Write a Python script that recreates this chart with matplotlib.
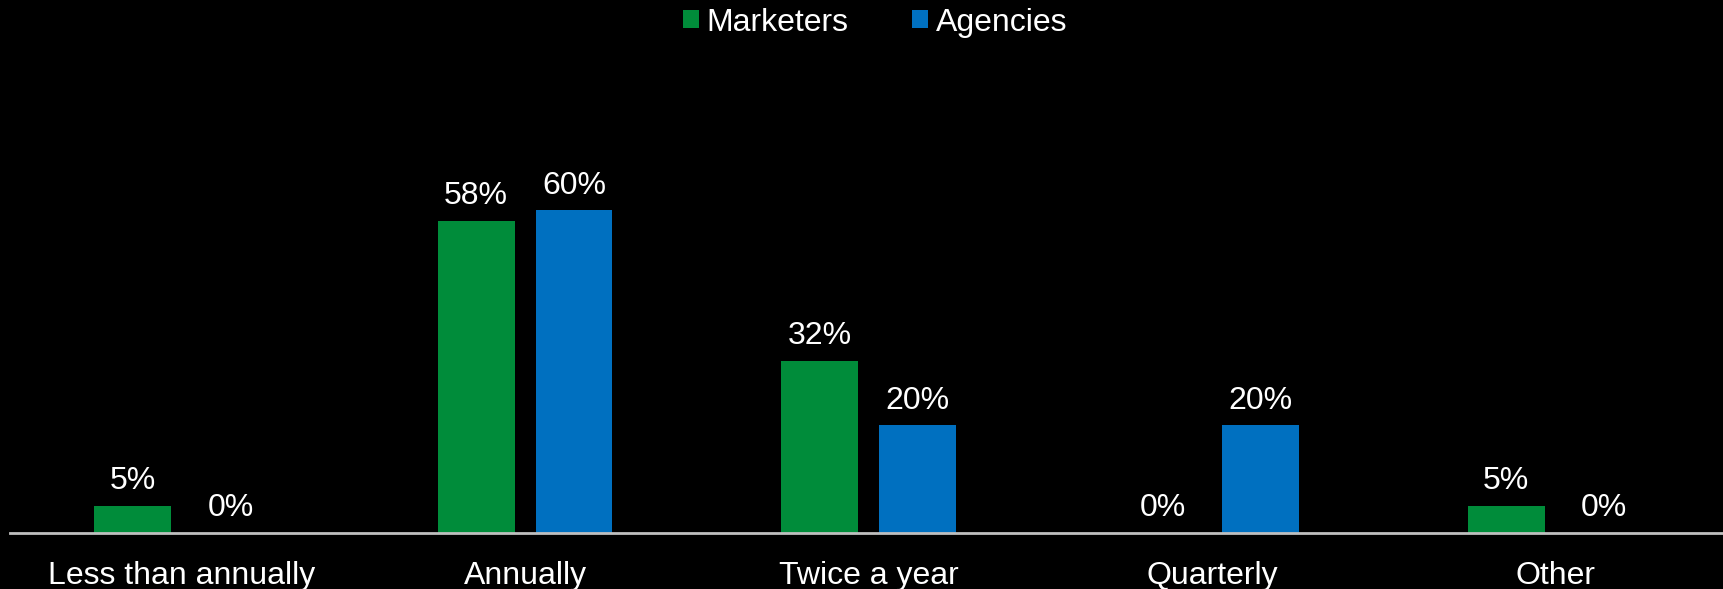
import matplotlib.pyplot as plt
import numpy as np

categories = ["Less than annually", "Annually", "Twice a year", "Quarterly", "Other"]
marketers = [5, 58, 32, 0, 5]
agencies = [0, 60, 20, 20, 0]

GREEN = "#008C3A"
BLUE = "#0070C0"

plt.rcParams['font.family'] = ['Liberation Sans', 'DejaVu Sans']

fig = plt.figure(figsize=(17.23, 5.89), dpi=100, facecolor="black")
ax = fig.add_axes([10 / 1723, 56 / 589, 1717 / 1723, 0.776])
ax.set_facecolor("black")

x = np.arange(len(categories))
w = 0.224
off = 0.1425
b1 = ax.bar(x - off, marketers, w, color=GREEN, label="Marketers")
b2 = ax.bar(x + off, agencies, w, color=BLUE, label="Agencies")

for bars, vals in ((b1, marketers), (b2, agencies)):
    for rect, v in zip(bars, vals):
        ax.annotate(f"{v}%", (rect.get_x() + rect.get_width() / 2, v),
                    xytext=(0, 7), textcoords="offset points",
                    ha="center", va="bottom", color="white", fontsize=23)

ax.set_xlim(-0.5, 4.5)
ax.set_ylim(0, 85)
ax.set_xticks(x)
ax.set_xticklabels(categories, color="white", fontsize=23)
ax.tick_params(axis="x", length=0, pad=20)
ax.set_yticks([])
for s in ["top", "right", "left"]:
    ax.spines[s].set_visible(False)
ax.spines["bottom"].set_color("#BFBFBF")
ax.spines["bottom"].set_linewidth(2)

leg = fig.legend(handles=[b1, b2], loc="upper center", bbox_to_anchor=(0.508, 1.036),
                 ncol=2, frameon=False, fontsize=23, labelcolor="white",
                 handlelength=0.5, handleheight=0.5, handletextpad=0.25,
                 columnspacing=2.0)

fig.savefig("out.png", dpi=100, facecolor="black")
